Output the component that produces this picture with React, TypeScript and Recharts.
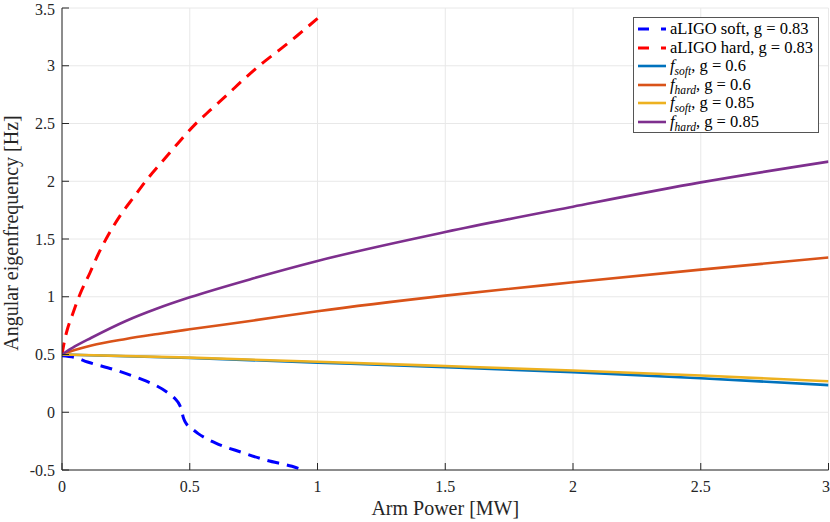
import React from 'react';
import { LineChart, Line, XAxis, YAxis, CartesianGrid, Legend, Label } from 'recharts';

// aLIGO curves (g = 0.83)
const aligoSoftP = [0, 0.05, 0.1, 0.2, 0.3, 0.36, 0.42, 0.442, 0.461, 0.468, 0.474, 0.48, 0.487, 0.51, 0.533, 0.6, 0.7, 0.8, 0.9, 0.945];
const aligoSoftF = [0.49, 0.475, 0.435, 0.372, 0.295, 0.24, 0.16, 0.119, 0.06, 0.02, -0.04, -0.075, -0.1, -0.145, -0.185, -0.265, -0.345, -0.415, -0.468, -0.5];
const aligoHardP = [0, 0.01, 0.02, 0.04, 0.07, 0.11, 0.14, 0.18, 0.23, 0.28, 0.34, 0.4, 0.46, 0.52, 0.58, 0.65, 0.71, 0.78, 0.85, 0.92, 1.0];
const aligoHardF = [0.5, 0.62, 0.71, 0.84, 1.02, 1.21, 1.36, 1.53, 1.71, 1.86, 2.035, 2.19, 2.345, 2.49, 2.615, 2.755, 2.88, 3.015, 3.135, 3.26, 3.41];

// model curves
const hardP = [0, 0.05, 0.115, 0.25, 0.375, 0.5, 0.75, 1, 1.5, 2, 2.5, 3];
const hardG06 = [0.5, 0.538, 0.578, 0.635, 0.678, 0.718, 0.795, 0.875, 1.01, 1.125, 1.235, 1.34];
const hardG085 = [0.5, 0.57, 0.645, 0.79, 0.9, 0.995, 1.16, 1.31, 1.56, 1.78, 1.99, 2.17];
const softP = [0, 0.5, 1, 1.5, 2, 2.5, 3];
const softG06 = [0.5, 0.47, 0.43, 0.39, 0.347, 0.295, 0.235];
const softG085 = [0.5, 0.473, 0.437, 0.4, 0.362, 0.318, 0.268];

const xTicks = [0, 0.5, 1, 1.5, 2, 2.5, 3];
const yTicks = [-0.5, 0, 0.5, 1, 1.5, 2, 2.5, 3, 3.5];

const zip = (ps: number[], fs: number[]) => ps.map((p, i) => ({ p, f: fs[i] }));

const FONT = '"Liberation Serif", "DejaVu Serif", serif';
const INK = '#262626';
const subStyle = { fontSize: '0.7em', lineHeight: 0, fontStyle: 'italic' as const };

const series = [
  { key: 'aligoSoft', data: zip(aligoSoftP, aligoSoftF), color: '#0000ff', dash: '12 8', width: 3, label: <span>aLIGO soft, g = 0.83</span> },
  { key: 'aligoHard', data: zip(aligoHardP, aligoHardF), color: '#ff0000', dash: '12 8', width: 3, label: <span>aLIGO hard, g = 0.83</span> },
  { key: 'softG06', data: zip(softP, softG06), color: '#0072bd', dash: undefined, width: 2.6, label: <span><i>f</i><sub style={subStyle}>soft</sub>, g = 0.6</span> },
  { key: 'hardG06', data: zip(hardP, hardG06), color: '#d95319', dash: undefined, width: 2.6, label: <span><i>f</i><sub style={subStyle}>hard</sub>, g = 0.6</span> },
  { key: 'softG085', data: zip(softP, softG085), color: '#edb120', dash: undefined, width: 2.6, label: <span><i>f</i><sub style={subStyle}>soft</sub>, g = 0.85</span> },
  { key: 'hardG085', data: zip(hardP, hardG085), color: '#7e2f8e', dash: undefined, width: 2.6, label: <span><i>f</i><sub style={subStyle}>hard</sub>, g = 0.85</span> },
];

const LegendBox = () => (
  <div style={{ border: '1px solid #555', background: '#fff', padding: '2px 0 1px 3px', fontFamily: FONT, fontSize: 16.5, color: '#000' }}>
    {series.map(s => (
      <div key={s.key} style={{ display: 'flex', alignItems: 'center', height: 18.5, whiteSpace: 'nowrap' }}>
        <svg width={30} height={10} style={{ flex: 'none' }}>
          <line x1={1} x2={29} y1={5} y2={5} stroke={s.color} strokeWidth={s.width} strokeDasharray={s.dash ? '11 12' : undefined} />
        </svg>
        <span style={{ marginLeft: 3 }}>{s.label}</span>
      </div>
    ))}
  </div>
);

const YLabel = (props: any) => {
  const { viewBox } = props;
  const x = viewBox.x + 18;
  const y = viewBox.y + viewBox.height / 2 - 6;
  return (
    <text x={x} y={y} transform={`rotate(-90, ${x}, ${y})`} textAnchor="middle" fontFamily={FONT} fontSize={20} fill={INK}>
      Angular eigenfrequency [Hz]
    </text>
  );
};

const tickStyle = { fontFamily: FONT, fontSize: 16, fill: INK };

export default function App() {
  return (
    <div style={{ position: 'absolute', left: 0, top: 0, background: '#fff' }}>
      <LineChart width={830} height={522} data={series[2].data} margin={{ top: 8, right: 1.5, bottom: 0, left: 0 }}>
        <CartesianGrid xAxisId="b" yAxisId="l" stroke="#e8e8e8" strokeWidth={1} />
        <XAxis xAxisId="b" dataKey="p" type="number" domain={[0, 3]} ticks={xTicks} allowDataOverflow
          height={52} tickSize={-7} tickMargin={18} stroke={INK} tick={tickStyle} tickFormatter={(v: number) => String(v)}>
          <Label value="Arm Power [MW]" position="insideBottom" offset={7} style={{ fontFamily: FONT, fontSize: 20, fill: INK }} />
        </XAxis>
        <XAxis xAxisId="t" orientation="top" dataKey="p" type="number" domain={[0, 3]} ticks={xTicks} allowDataOverflow
          height={0} tickSize={-7} tick={false} stroke={INK} />
        <YAxis yAxisId="l" type="number" domain={[-0.5, 3.5]} ticks={yTicks} allowDataOverflow
          width={62} tickSize={-7} tickMargin={14} stroke={INK} tick={tickStyle} tickFormatter={(v: number) => String(v)}>
          <Label content={<YLabel />} />
        </YAxis>
        <YAxis yAxisId="r" orientation="right" type="number" domain={[-0.5, 3.5]} ticks={yTicks} allowDataOverflow
          width={0} tickSize={-7} tick={false} stroke={INK} />
        {series.map(s => (
          <Line key={s.key} xAxisId="b" yAxisId="l" data={s.data} dataKey="f" type="monotone" stroke={s.color}
            strokeWidth={s.width} strokeDasharray={s.dash} dot={false} activeDot={false} isAnimationActive={false} />
        ))}
        <Legend layout="vertical" align="center" verticalAlign="middle" content={<LegendBox />}
          wrapperStyle={{ top: 17, left: 633, width: 186 }} />
      </LineChart>
    </div>
  );
}
